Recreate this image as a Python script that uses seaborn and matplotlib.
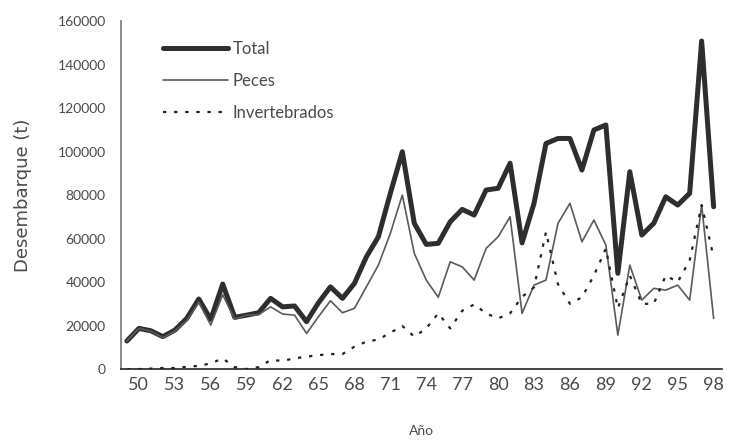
import numpy as np
import pandas as pd
import matplotlib
matplotlib.use("Agg")
import matplotlib.pyplot as plt
import seaborn as sns

# años 1949-1998
years = list(range(1949, 1999))

total = [12900, 18700, 17600, 14900, 17900, 23300, 32200, 22800, 39100, 23800,
         24800, 25900, 32500, 28600, 29000, 21800, 30500, 37800, 32500, 39400,
         51600, 60800, 80800, 99900, 67000, 57300, 57800, 67700, 73400, 70800,
         82300, 83100, 94600, 58000, 76200, 103700, 106000, 106000, 91500, 109900,
         112200, 44000, 90700, 61600, 67000, 79200, 75400, 80800, 150800, 74600]

peces = [12900, 18700, 17400, 14400, 17400, 22300, 30700, 20200, 34200, 22900,
         24800, 25000, 28600, 25300, 24800, 16400, 24100, 31400, 25900, 27900,
         37800, 47800, 62400, 80000, 53200, 40900, 33000, 49300, 47000, 40900,
         55500, 60800, 70000, 25600, 38600, 40900, 67000, 76200, 58500, 68500,
         57000, 15600, 47800, 31700, 37100, 36300, 38600, 31700, 75400, 23300]

invertebrados = [0, 0, 200, 500, 500, 1000, 1500, 2600, 4900, 900,
                 0, 900, 4100, 3800, 4900, 5700, 6400, 6900, 6900, 10300,
                 12600, 13600, 16700, 19800, 14900, 18700, 25600, 18700, 26800, 29700,
                 25600, 23300, 25600, 33200, 37600, 63000, 39000, 30000, 33000, 43000,
                 55400, 28000, 43000, 30000, 30000, 43000, 40000, 50000, 75400, 51500]

df = pd.DataFrame({"Año": years, "Total": total, "Peces": peces,
                   "Invertebrados": invertebrados})

sns.set_style("white")
plt.rcParams["font.family"] = ["Lato", "DejaVu Sans"]
txt = "#4a4a4a"

fig = plt.figure(figsize=(7.33, 4.42), dpi=100)
ax = fig.add_axes([0.165, 0.165, 0.82, 0.7875])

sns.lineplot(data=df, x="Año", y="Total", ax=ax, color="#2e2e2e",
             linewidth=3.6, label="Total")
sns.lineplot(data=df, x="Año", y="Peces", ax=ax, color="#5a5a5a",
             linewidth=1.2, label="Peces")
sns.lineplot(data=df, x="Año", y="Invertebrados", ax=ax, color="#222222",
             linewidth=1.6, linestyle=(0, (1.5, 3.5)), label="Invertebrados")

ax.set_xlim(1948.5, 1998.7)
ax.set_ylim(0, 160000)
ax.set_yticks(range(0, 160001, 20000))
ax.set_yticklabels([str(v) for v in range(0, 160001, 20000)], fontsize=10, color=txt)
xt = list(range(1950, 1999, 3))
ax.set_xticks(xt)
ax.set_xticklabels([f"{y % 100:02d}" for y in xt], fontsize=13, color=txt)
ax.set_xticks(years, minor=True)
ax.tick_params(axis="x", which="both", direction="out", length=4, color="#666666",
               pad=2)
ax.tick_params(axis="y", direction="out", length=5, color="#666666", pad=6)

for s in ["top", "right"]:
    ax.spines[s].set_visible(False)
ax.spines["left"].set_color("#777777")
ax.spines["left"].set_linewidth(1.2)
ax.spines["bottom"].set_color("#222222")
ax.spines["bottom"].set_linewidth(1.2)

ax.set_xlabel("Año", fontsize=10, color=txt, labelpad=23)
ax.set_ylabel("Desembarque (t)", fontsize=13, color=txt, labelpad=18,
              family=["DejaVu Sans"])

leg = ax.legend(loc="upper left", bbox_to_anchor=(0.045, 0.985), frameon=False,
                fontsize=12, handlelength=3.9, handletextpad=0.3,
                labelspacing=0.95)
for t in leg.get_texts():
    t.set_color(txt)

fig.savefig("out.png", dpi=100)
